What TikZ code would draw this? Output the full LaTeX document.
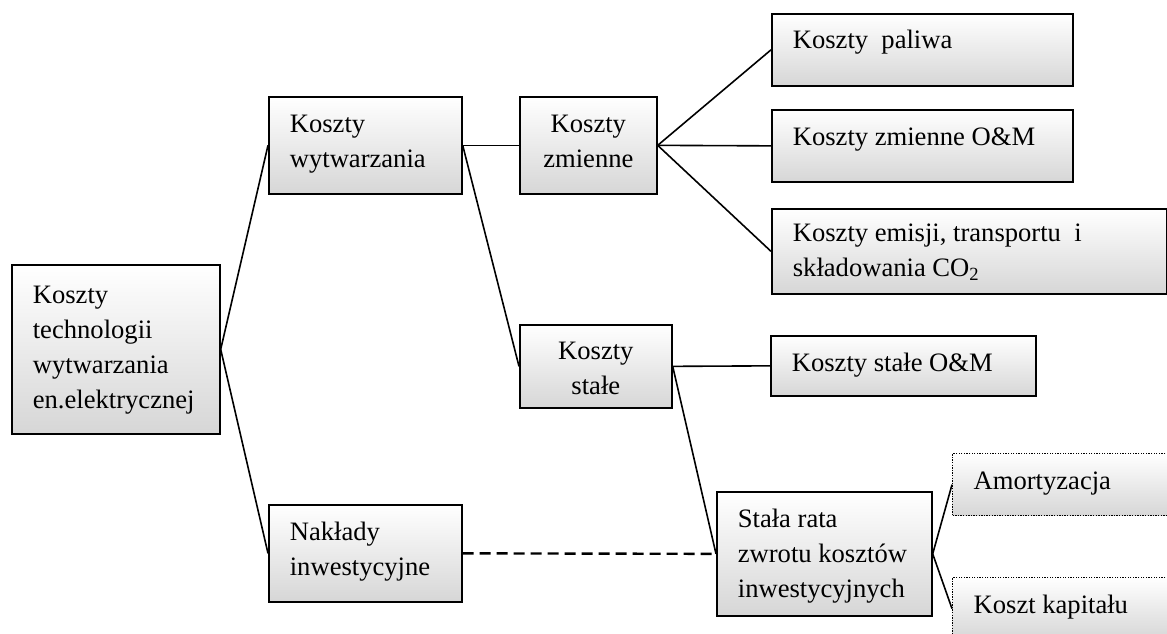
\documentclass[tikz,border=0pt]{standalone}
\usepackage{fontspec}
\setmainfont{Liberation Serif}
\newcommand\lbox[4]{\parbox[c][#2pt][t]{#1pt}{\raggedright\leftskip=21pt\vspace*{\dimexpr#3pt-24.5pt\relax}\strut#4}}
\newcommand\cbox[4]{\parbox[c][#2pt][t]{#1pt}{\centering\vspace*{\dimexpr#3pt-24.5pt\relax}\strut#4}}
\tikzset{
  box/.style={draw=black, line width=1.7pt, top color=white, bottom color=gray!32,
    inner sep=0pt, anchor=north west, font=\fontsize{26.6}{35}\selectfont},
  dbox/.style={box, line width=1.3pt, dash pattern=on 1.3pt off 1.3pt},
  conn/.style={line width=1.6pt},
  dconn/.style={line width=2.4pt, dash pattern=on 11pt off 6pt}
}
\begin{document}
\begin{tikzpicture}[x=1pt,y=-1pt]
\useasboundingbox (0,0) rectangle (1167,634);
\clip (0,0) rectangle (1167,634);
\node[box] (A) at (11,264) {\lbox{208}{169}{39}{Koszty\\technologii\\wytwarzania\\en.elektrycznej}};
\node[box] (B) at (268,96) {\lbox{193}{97}{36}{Koszty\\wytwarzania}};
\node[box] (C) at (519,96) {\cbox{137}{97}{36}{Koszty\\zmienne}};
\node[box] (D) at (519,324) {\cbox{152}{83}{35}{Koszty\\stałe}};
\node[box] (E) at (771,13) {\lbox{301}{72}{35}{Koszty\ \ paliwa}};
\node[box] (F) at (771,109) {\lbox{301}{72}{36}{Koszty zmienne O\&M}};
\node[box] (G) at (771,208) {\lbox{395}{85}{33}{Koszty emisji, transportu\ \ i\\składowania CO\textsubscript{2}}};
\node[box] (H) at (770,335) {\lbox{265}{60}{36}{Koszty stałe O\&M}};
\node[box] (I) at (268,504) {\lbox{193}{97}{36}{Nakłady\\inwestycyjne}};
\node[box] (J) at (716,491) {\lbox{215}{124}{36}{Stała rata\\zwrotu kosztów\\inwestycyjnych}};
\node[dbox] (K) at (952,453) {\lbox{230}{62}{36}{Amortyzacja}};
\node[dbox] (L) at (952,577) {\lbox{230}{62}{36}{Koszt kapitału}};
\draw[conn] (A.east) -- (B.west);
\draw[conn] (A.east) -- (I.west);
\draw[conn] (B.east) -- (C.west);
\draw[conn] (B.east) -- (D.west);
\draw[conn] (C.east) -- (E.west);
\draw[conn] (C.east) -- (F.west);
\draw[conn] (C.east) -- (G.west);
\draw[conn] (D.east) -- (H.west);
\draw[conn] (D.east) -- (J.west);
\draw[dconn] (I.east) -- (J.west);
\draw[conn] (J.east) -- (K.west);
\draw[conn] (J.east) -- (L.west);
\end{tikzpicture}
\end{document}
